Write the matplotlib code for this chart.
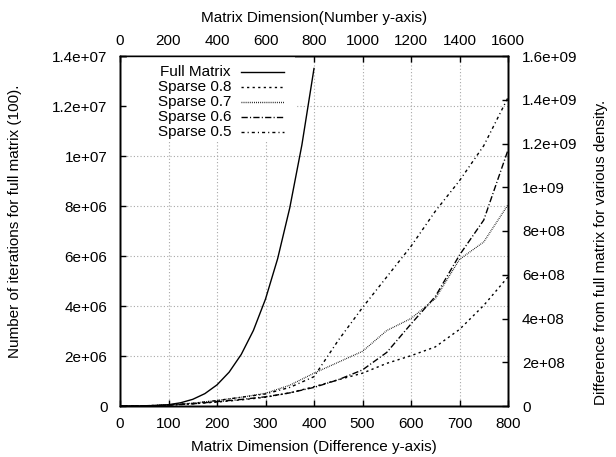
import matplotlib
matplotlib.use("Agg")
import matplotlib.pyplot as plt
from matplotlib.lines import Line2D
from matplotlib.patches import Rectangle

plt.rcParams['font.family'] = ['Liberation Sans', 'DejaVu Sans']
plt.rcParams['font.size'] = 11

# ---- data ----
full_x = [0, 50, 100, 150, 200, 250, 300, 350, 400, 450, 500, 550, 600, 650, 700, 750, 800]  # top axis
full_y = [0, 210, 3300, 16700, 52800, 129000, 267000, 495000, 845000, 1353000, 2063000,
          3020000, 4277000, 5890000, 7923000, 10440000, 13500000]

sparse_x = [0, 50, 100, 150, 200, 250, 300, 350, 400, 450, 500, 550, 600, 650, 700, 750, 800]  # bottom axis
sparse_08 = [0, 0.01e8, 0.04e8, 0.10e8, 0.18e8, 0.28e8, 0.40e8, 0.60e8, 0.88e8, 1.2e8, 1.5e8,
             1.95e8, 2.3e8, 2.7e8, 3.5e8, 4.6e8, 5.9e8]
sparse_07 = [0, 0.01e8, 0.05e8, 0.13e8, 0.25e8, 0.40e8, 0.58e8, 0.95e8, 1.5e8, 2.0e8, 2.5e8,
             3.45e8, 4.0e8, 4.9e8, 6.7e8, 7.5e8, 9.2e8]
sparse_06 = [0, 0.01e8, 0.04e8, 0.10e8, 0.20e8, 0.30e8, 0.42e8, 0.60e8, 0.85e8, 1.2e8, 1.65e8,
             2.45e8, 3.75e8, 5.0e8, 6.9e8, 8.5e8, 11.7e8]
sparse_05 = [0, 0.01e8, 0.05e8, 0.12e8, 0.25e8, 0.40e8, 0.55e8, 0.85e8, 1.34e8, 3.0e8, 4.5e8,
             5.9e8, 7.3e8, 8.9e8, 10.3e8, 11.9e8, 14.1e8]

series_names = ["Full Matrix", "Sparse 0.8", "Sparse 0.7", "Sparse 0.6", "Sparse 0.5"]

bottom_ticks = [0, 100, 200, 300, 400, 500, 600, 700, 800]
top_ticks = [0, 200, 400, 600, 800, 1000, 1200, 1400, 1600]
left_ticks = [0, 2e6, 4e6, 6e6, 8e6, 1e7, 1.2e7, 1.4e7]
left_labels = ["0", "2e+06", "4e+06", "6e+06", "8e+06", "1e+07", "1.2e+07", "1.4e+07"]
right_ticks = [0, 2e8, 4e8, 6e8, 8e8, 1e9, 1.2e9, 1.4e9, 1.6e9]
right_labels = ["0", "2e+08", "4e+08", "6e+08", "8e+08", "1e+09", "1.2e+09", "1.4e+09", "1.6e+09"]

W, H = 616, 457
fig = plt.figure(figsize=(W / 100, H / 100), dpi=100)
L, R, T, B = 120, 508, 56, 406
ax = fig.add_axes([L / W, 1 - B / H, (R - L) / W, (B - T) / H])

ax.set_xlim(0, 800)
ax.set_ylim(0, 1.4e7)
ax.set_xticks(bottom_ticks)
ax.set_xticklabels([str(t) for t in bottom_ticks])
ax.set_yticks(left_ticks)
ax.set_yticklabels(left_labels)
ax.tick_params(direction='in', length=4.5, width=1, top=False, right=False, pad=8)
ax.tick_params(axis='y', pad=9)
gc = '#a8a8a8'
for t in bottom_ticks[1:-1]:
    ax.axvline(t, color=gc, lw=0.8, ls=(0, (1, 2)), zorder=0)
for t in left_ticks[1:-1]:
    ax.axhline(t, color=gc, lw=0.8, ls=(0, (1, 2)), zorder=0)

ax_top = ax.twiny()
ax_top.set_xlim(0, 1600)
ax_top.set_xticks(top_ticks)
ax_top.set_xticklabels([str(t) for t in top_ticks])
ax_top.tick_params(direction='in', length=4.5, width=1, pad=6)
ax_top.plot(full_x, full_y, color='black', lw=1.0)

ax_r = ax.twinx()
ax_r.set_ylim(0, 1.6e9)
ax_r.set_yticks(right_ticks)
ax_r.set_yticklabels(right_labels)
ax_r.tick_params(direction='in', length=4.5, width=1, pad=10)

styles = {
    "Sparse 0.8": (0, (1.6, 2.4)),
    "Sparse 0.7": (0, (0.6, 0.9)),
    "Sparse 0.6": (0, (4.5, 1.6, 0.8, 1.6)),
    "Sparse 0.5": (0, (2.2, 2.2, 0.8, 2.2)),
}
ax_r.plot(sparse_x, sparse_08, color='black', lw=1.0, ls=styles["Sparse 0.8"])
ax_r.plot(sparse_x, sparse_07, color='black', lw=0.9, ls=styles["Sparse 0.7"])
ax_r.plot(sparse_x, sparse_06, color='black', lw=1.0, ls=styles["Sparse 0.6"])
ax_r.plot(sparse_x, sparse_05, color='black', lw=1.0, ls=styles["Sparse 0.5"])

for a in (ax, ax_top, ax_r):
    for s in a.spines.values():
        s.set_linewidth(1.0)

# legend box (opaque, covers grid)
ax_r.add_patch(Rectangle((7 / (R - L), (B - 141) / (B - T)), (295 - 127) / (R - L), (141 - T) / (B - T) - 0.003,
                         transform=ax_r.transAxes, facecolor='white', edgecolor='none', zorder=0.5))
leg_styles = ['-', styles["Sparse 0.8"], styles["Sparse 0.7"], styles["Sparse 0.6"], styles["Sparse 0.5"]]
for i, (name, ls) in enumerate(zip(series_names, leg_styles)):
    yp = 71.7 + 15 * i
    fig.text(231 / W, 1 - yp / H, name, ha='right', va='center', fontsize=11)
    fig.add_artist(Line2D([241 / W, 284 / W], [1 - yp / H, 1 - yp / H], color='black', lw=1.0, ls=ls,
                          transform=fig.transFigure))

fig.text(314 / W, 1 - 18 / H, "Matrix Dimension(Number y-axis)", ha='center', va='center', fontsize=11)
fig.text(314 / W, 1 - 451.5 / H, "Matrix Dimension (Difference y-axis)", ha='center', va='baseline', fontsize=11)
fig.text(15 / W, 1 - 221 / H, "Number of iterations for full matrix (100).", ha='center', va='center',
         rotation=90, fontsize=11)
fig.text(601 / W, 1 - 252 / H, "Difference from full matrix for various density.", ha='center', va='center',
         rotation=90, fontsize=11)

fig.savefig("out.png", dpi=100)
